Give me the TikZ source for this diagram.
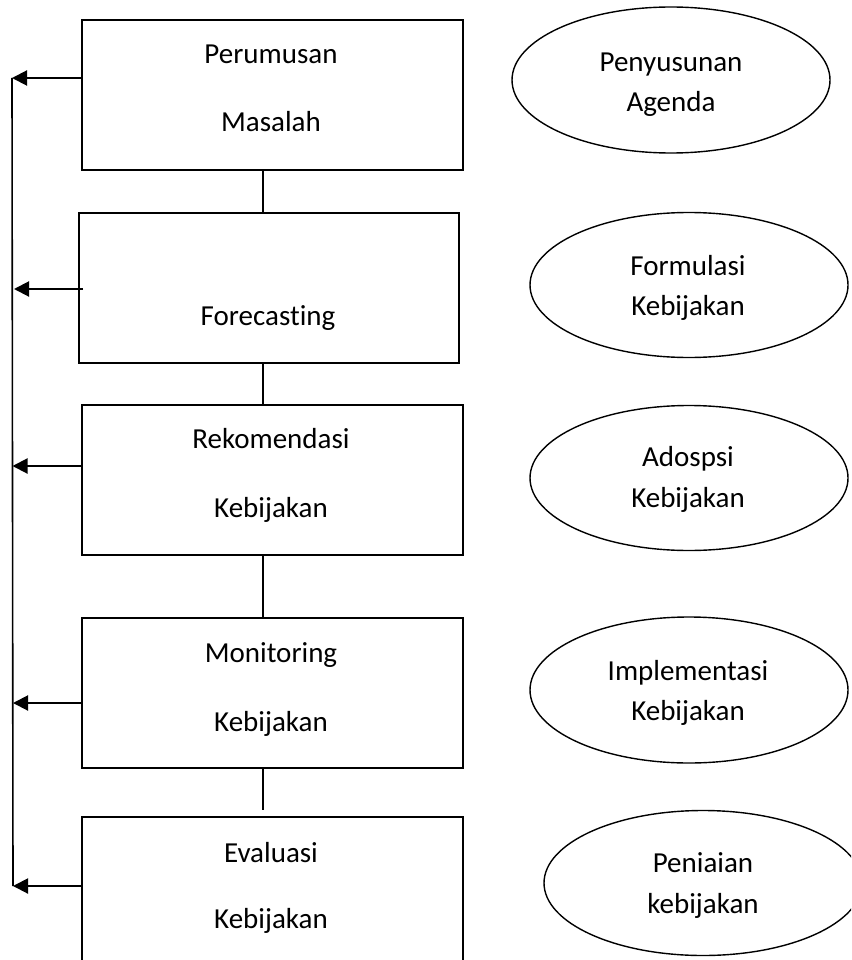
\documentclass[tikz,border=0pt]{standalone}
\usepackage{fontspec}
\setmainfont[Ligatures=NoCommon]{Carlito}
\usetikzlibrary{shapes.geometric,arrows.meta}
\begin{document}
\begin{tikzpicture}[x=1pt,y=-1pt,
  boxnode/.style={draw,line width=2pt,rectangle,inner sep=0pt,anchor=north west,minimum width=381pt,minimum height=150pt},
  ellnode/.style={draw,line width=1.4pt,ellipse,inner sep=0pt,minimum width=318pt,minimum height=146pt},
  txt/.style={inner sep=0pt,anchor=base,font=\fontsize{29}{34}\selectfont},
  arr/.style={line width=2pt,-{Triangle[length=15pt,width=15pt]}},
  conn/.style={line width=1.4pt}]
\useasboundingbox (0,0) rectangle (851,960);
\clip (0,0) rectangle (851,960);
% boxes
\node[boxnode] (b1) at (81,19) {};
\node[boxnode,minimum width=380pt] (b2) at (78,212) {};
\node[boxnode] (b3) at (81,404) {};
\node[boxnode] (b4) at (81,617) {};
\node[boxnode,minimum height=170pt] (b5) at (81,816) {};
% box texts
\node[txt] (t1a) at (271,64) {Perumusan};
\node[txt] (t1b) at (271,132) {Masalah};
\node[txt] (t2) at (268,325) {Forecasting};
\node[txt] (t3a) at (271,448) {Rekomendasi};
\node[txt] (t3b) at (271,517) {Kebijakan};
\node[txt] (t4a) at (271,662) {Monitoring};
\node[txt] (t4b) at (271,731) {Kebijakan};
\node[txt] (t5a) at (271,862) {Evaluasi};
\node[txt] (t5b) at (271,928) {Kebijakan};
% connectors between boxes
\coordinate (cx) at (263,0);
\draw[conn] (b1.south -| cx) -- (b2.north -| cx);
\draw[conn] (b2.south -| cx) -- (b3.north -| cx);
\draw[conn] (b3.south -| cx) -- (b4.north -| cx);
\draw[conn] (b4.south -| cx) -- ([yshift=6pt]b5.north -| cx);
% feedback line
\coordinate (v1) at (12,78);
\coordinate (v2) at (14,289);
\coordinate (v3) at (12.5,466);
\coordinate (v4) at (13,703);
\coordinate (v5) at (13,886);
\draw[line width=1.6pt] (v1) -- (v5);
\draw[arr] (b1.west |- v1) -- (v1);
\draw[arr] ([xshift=5pt]b2.west |- v2) -- (v2);
\draw[arr] (b3.west |- v3) -- (v3);
\draw[arr] (b4.west |- v4) -- (v4);
\draw[arr] (b5.west |- v5) -- (v5);
% ellipses
\node[ellnode] (e1) at (671,80) {};
\node[ellnode,minimum height=145pt] (e2) at (689,285) {};
\node[ellnode,minimum height=145pt] (e3) at (689,478) {};
\node[ellnode] (e4) at (689,690) {};
\node[ellnode,minimum height=145pt] (e5) at (703,883) {};
\node[txt] (s1a) at (671,72) {Penyusunan};
\node[txt] (s1b) at (671,112) {Agenda};
\node[txt] (s2a) at (688,275) {Formulasi};
\node[txt] (s2b) at (688,315) {Kebijakan};
\node[txt] (s3a) at (688,466) {Adospsi};
\node[txt] (s3b) at (688,507) {Kebijakan};
\node[txt] (s4a) at (688,680) {Implementasi};
\node[txt] (s4b) at (688,720) {Kebijakan};
\node[txt] (s5a) at (703,872) {Peniaian};
\node[txt] (s5b) at (703,913) {kebijakan};
\end{tikzpicture}
\end{document}
